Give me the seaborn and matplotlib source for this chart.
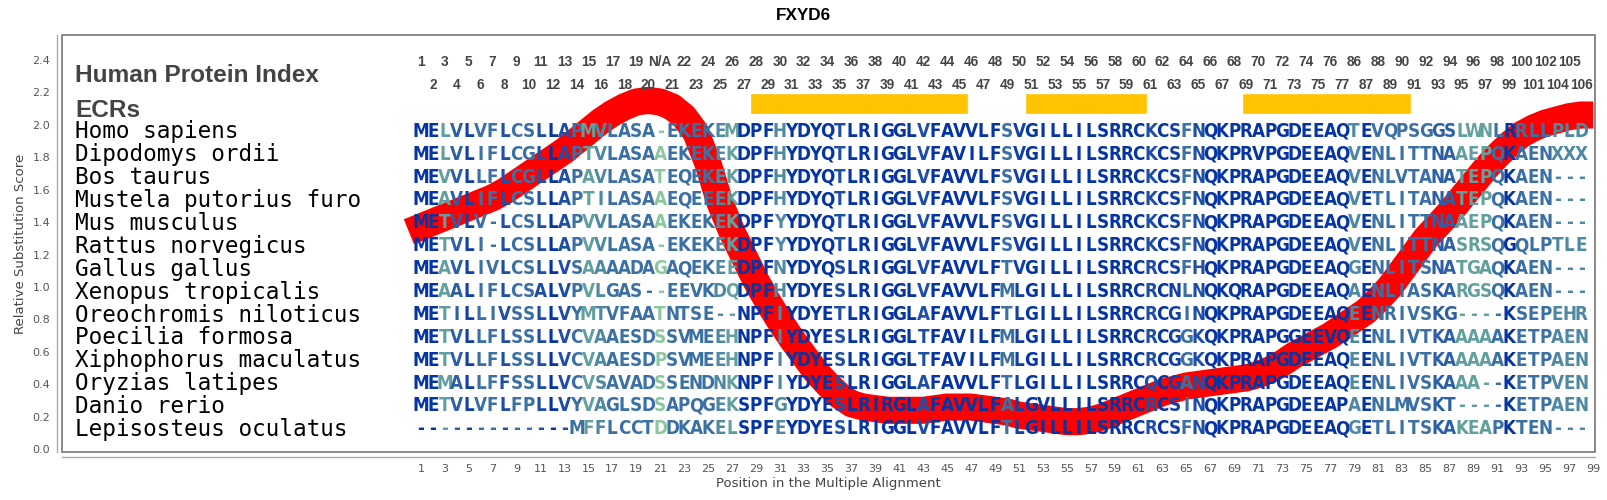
import os
import numpy as np
import pandas as pd
import matplotlib
matplotlib.use("Agg")
import matplotlib.pyplot as plt
import seaborn as sns
from matplotlib import font_manager
from matplotlib.colors import LinearSegmentedColormap, Normalize
from matplotlib.patches import Rectangle

# ---------------- data ----------------
title = "FXYD6"
species = ["Homo sapiens", "Dipodomys ordii", "Bos taurus", "Mustela putorius furo",
           "Mus musculus", "Rattus norvegicus", "Gallus gallus", "Xenopus tropicalis",
           "Oreochromis niloticus", "Poecilia formosa", "Xiphophorus maculatus",
           "Oryzias latipes", "Danio rerio", "Lepisosteus oculatus"]
sequences = [
    "MELVLVFLCSLLAPMVLASA-EKEKEMDPFHYDYQTLRIGGLVFAVVLFSVGILLILSRRCKCSFNQKPRAPGDEEAQTEVQPSGGSLWNLRRLLPLD",
    "MELVLIFLCGLLAPTVLASAAEKEKEKDPFHYDYQTLRIGGLVFAVILFSVGILLILSRRCKCSFNQKPRVPGDEEAQVENLITTNAAEPQKAENXXX",
    "MEVVLLFLCGLLAPAVLASATEQEKEKDPFHYDYQTLRIGGLVFAVVLFSVGILLILSRRCKCSFNQKPRAPGDEEAQVENLVTANATEPQKAEN---",
    "MEAVLIFLCSLLAPTILASAAEQEEEKDPFHYDYQTLRIGGLVFAVVLFSVGILLILSRRCKCSFNQKPRAPGDEEAQVETLITANATEPQKAEN---",
    "METVLV-LCSLLAPVVLASAAEKEKEKDPFYYDYQTLRIGGLVFAVVLFSVGILLILSRRCKCSFNQKPRAPGDEEAQVENLITTNAAEPQKAEN---",
    "METVLI-LCSLLAPVVLASA-EKEKEKDPFYYDYQTLRIGGLVFAVVLFSVGILLILSRRCKCSFNQKPRAPGDEEAQVENLITTNASRSQGQLPTLE",
    "MEAVLIVLCSLLVSAAAADAGAQEKEEDPFNYDYQSLRIGGLVFAVVLFTVGILLILSRRCRCSFHQKPRAPGDEEAQGENLITSNATGAQKAEN---",
    "MEAALIFLCSALVPVLGAS--EEVKDQDPFHYDYESLRIGGLVFAVVLFMLGILLILSRRCRCNLNQKQRAPGDEEAQAENLIASKARGSQKAEN---",
    "METILLIVSSLLVYMTVFAATNTSE--NPFIYDYETLRIGGLAFAVVLFTLGILLILSRRCRCGINQKPRAPGDEEAQEENRIVSKG----KSEPEHR",
    "METVLLFLSSLLVCVAAESDSSVMEEHNPFIYDYESLRIGGLTFAVILFMLGILLILSRRCRCGGKQKPRAPGGEEVQEENLIVTKAAAAAKETPAEN",
    "METVLLFLSSLLVCVAAESDPSVMEEHNPFIYDYESLRIGGLTFAVILFMLGILLILSRRCRCGGKQKPRAPGDEEAQEENLIVTKAAAAAKETPAEN",
    "MEMALLFFSSLLVCVSAVADSSENDNKNPFIYDYESLRIGGLAFAVVLFTLGILLILSRRCQCGANQKPRAPGDEEAQEENLIVSKAAA--KETPVEN",
    "METVLVFLFPLLVYVAGLSDSAPQGEKSPFGYDYESLRIRGLAFAVVLFALGVLLILSRRCRCSINQKPRAPGDEEAPAENLMVSKT----KETPAEN",
    "-------------MFFLCCTDDKAKELSPFEYDYESLRIGGLVFAVVLFTLGILLILSRRCRCSFNQKPRAPGDEEAQGETLITSKAKEAPKTEN---",
]
# conservation level of each alignment column (0 light .. 4 dark)
column_level = [4, 4, 1, 2.5, 3.5, 2, 2, 3, 2, 2,
                3, 4, 3, 2, 1, 1.5, 2, 2, 2, 2,
                0, 2, 2, 2, 2, 1.5, 1, 4, 4, 4,
                1.5, 4, 4, 4, 4, 3, 4, 4, 4, 4,
                4, 4, 3, 4, 4, 4, 4, 4, 4, 2,
                3.5, 4, 4, 4, 4, 4, 4, 4, 4, 4,
                4, 3, 4, 3.5, 2, 3, 4, 4, 4, 4,
                4, 4, 4, 4, 4, 4, 4, 4, 1.5, 4,
                2, 2, 2, 2, 2, 2.5, 2.5, 1, 1, 1,
                2, 4, 2, 2, 2, 1.5, 1.5, 1.5]
index_row1 = ["1", "3", "5", "7", "9", "11", "13", "15", "17", "19", "N/A", "22", "24", "26",
              "28", "30", "32", "34", "36", "38", "40", "42", "44", "46", "48", "50", "52", "54",
              "56", "58", "60", "62", "64", "66", "68", "70", "72", "74", "76", "86", "88", "90",
              "92", "94", "96", "98", "100", "102", "105"]
index_row2 = ["2", "4", "6", "8", "10", "12", "14", "16", "18", "20", "21", "23", "25", "27",
              "29", "31", "33", "35", "37", "39", "41", "43", "45", "47", "49", "51", "53", "55",
              "57", "59", "61", "63", "65", "67", "69", "71", "73", "75", "77", "87", "89", "91",
              "93", "95", "97", "99", "101", "104", "106"]
ecr_start = [28.5, 51.5, 69.6]
ecr_end = [46.7, 61.7, 83.8]
score_pos = list(range(0, 100))
score_val = [1.34, 1.37, 1.40, 1.43, 1.46, 1.49, 1.52, 1.55, 1.59, 1.64,
             1.69, 1.74, 1.79, 1.84, 1.90, 1.96, 2.02, 2.07, 2.11, 2.14,
             2.15, 2.14, 2.11, 2.05, 1.95, 1.76, 1.52, 1.34, 1.19, 1.04,
             0.91, 0.79, 0.68, 0.58, 0.48, 0.40, 0.33, 0.28, 0.26, 0.25,
             0.24, 0.24, 0.24, 0.24, 0.25, 0.26, 0.26, 0.26, 0.25, 0.24,
             0.23, 0.21, 0.20, 0.19, 0.18, 0.17, 0.17, 0.18, 0.20, 0.23,
             0.26, 0.29, 0.32, 0.35, 0.37, 0.39, 0.40, 0.41, 0.42, 0.43,
             0.44, 0.46, 0.49, 0.53, 0.58, 0.62, 0.66, 0.70, 0.75, 0.80,
             0.85, 0.92, 1.00, 1.10, 1.20, 1.30, 1.38, 1.46, 1.55, 1.64,
             1.73, 1.81, 1.88, 1.94, 1.98, 2.01, 2.03, 2.05, 2.06, 2.06]
xtick_vals = list(range(-29, 100, 2))
ytick_vals = [0.0, 0.2, 0.4, 0.6, 0.8, 1.0, 1.2, 1.4, 1.6, 1.8, 2.0, 2.2, 2.4]

# ---------------- style ----------------
sns.set_theme(style="white")
plt.rcParams["font.family"] = ["DejaVu Sans"]


def pick_font(candidates, fallback):
    names = {os.path.basename(f.fname): f.fname for f in font_manager.fontManager.ttflist}
    for c in candidates:
        if c in names:
            return font_manager.FontProperties(fname=names[c])
    return fallback


seq_fp = pick_font(["LiberationSansNarrow-Bold.ttf", "DejaVuSansCondensed-Bold.ttf"],
                   font_manager.FontProperties(family="DejaVu Sans", weight="bold"))
seq_fp.set_size(13.5)

W, H = 1608, 500
fig = plt.figure(figsize=(W / 100, H / 100), dpi=100)
fig.patch.set_facecolor("white")
L, R, T, B = 62, 1595, 35, 452
ax = fig.add_axes([L / W, 1 - B / H, (R - L) / W, (B - T) / H])
ax.set_facecolor("white")

# score curve
df = pd.DataFrame({"pos": score_pos, "score": score_val})
sns.lineplot(data=df, x="pos", y="score", ax=ax, color="#ff0000", linewidth=19.5,
             solid_capstyle="butt", solid_joinstyle="round", zorder=2, legend=False)

# ECR bars
ax.barh([2.1305] * len(ecr_start), [e - s for s, e in zip(ecr_start, ecr_end)],
        left=ecr_start, height=0.129, color="#ffc400", zorder=1.5)

cmap = LinearSegmentedColormap.from_list(
    "cons", ["#8dc79f", "#62a0a0", "#3b70a4", "#1f4ea5", "#0535a2"])
norm = Normalize(vmin=0, vmax=4)

row_step = 0.1411
for i, (name, seq) in enumerate(zip(species, sequences)):
    yb_name = 1.916 - i * row_step
    yb_seq = 1.926 - i * row_step
    ax.text(-27.9, yb_name, name, family="DejaVu Sans Mono", fontsize=16.3,
            color="black", ha="left", va="baseline", zorder=4)
    for c, ch in enumerate(seq):
        ax.text(c + 1, yb_seq, ch, fontproperties=seq_fp,
                color=cmap(norm(column_level[c])),
                ha="center", va="baseline", zorder=4)

# header texts
ax.text(-27.9, 2.265, "Human Protein Index", family="Liberation Sans", fontweight="bold",
        fontsize=17.6, color="#444444", ha="left", va="baseline", zorder=4)
ax.text(-27.9, 2.049, "ECRs", family="Liberation Sans", fontweight="bold",
        fontsize=17.6, color="#444444", ha="left", va="baseline", zorder=4)
for k, lab in enumerate(index_row1):
    ax.text(1 + 2 * k, 2.364, lab, family="Liberation Sans", fontweight="bold",
            fontsize=9.8, color="#444444", ha="center", va="baseline", zorder=4)
for k, lab in enumerate(index_row2):
    ax.text(2 + 2 * k, 2.220, lab, family="Liberation Sans", fontweight="bold",
            fontsize=9.8, color="#444444", ha="center", va="baseline", zorder=4)

# axes
ax.set_xlim(-28.9, 99.15)
ax.set_ylim(-0.017, 2.553)
ax.set_xticks(xtick_vals)
ax.set_xticklabels([str(v) if v > 0 else "" for v in xtick_vals])
ax.set_yticks(ytick_vals)
ax.set_yticklabels([f"{v:.1f}" for v in ytick_vals])
ax.tick_params(axis="both", direction="out", length=3, width=0.8, color="#999999",
               labelcolor="#555555", labelsize=8, pad=1.8)
for s in ["top", "right"]:
    ax.spines[s].set_visible(False)
for s in ["left", "bottom"]:
    ax.spines[s].set_visible(True)
    ax.spines[s].set_color("#aaaaaa")
    ax.spines[s].set_linewidth(1.0)
    ax.spines[s].set_position(("outward", 3.6))
ax.add_patch(Rectangle((0, 0), 1, 1, transform=ax.transAxes, fill=False,
                       edgecolor="#808080", linewidth=1.3, zorder=6, clip_on=False))
ax.grid(False)

ax.set_xlabel("Position in the Multiple Alignment", fontsize=9.5, color="#444444", va="center")
ax.xaxis.set_label_coords(0.5, -(483 - B) / (B - T))
ax.set_ylabel("Relative Substitution Score", fontsize=9.5, color="#444444",
              rotation=90, va="center", ha="center")
ax.yaxis.set_label_coords((20.5 - L) / (R - L), 0.5)

fig.text(803 / W, 1 - 20.5 / H, title, family="Liberation Sans", fontweight="bold",
         fontsize=12.3, color="black", ha="center", va="baseline")

fig.savefig("out.png", dpi=100, facecolor="white")
